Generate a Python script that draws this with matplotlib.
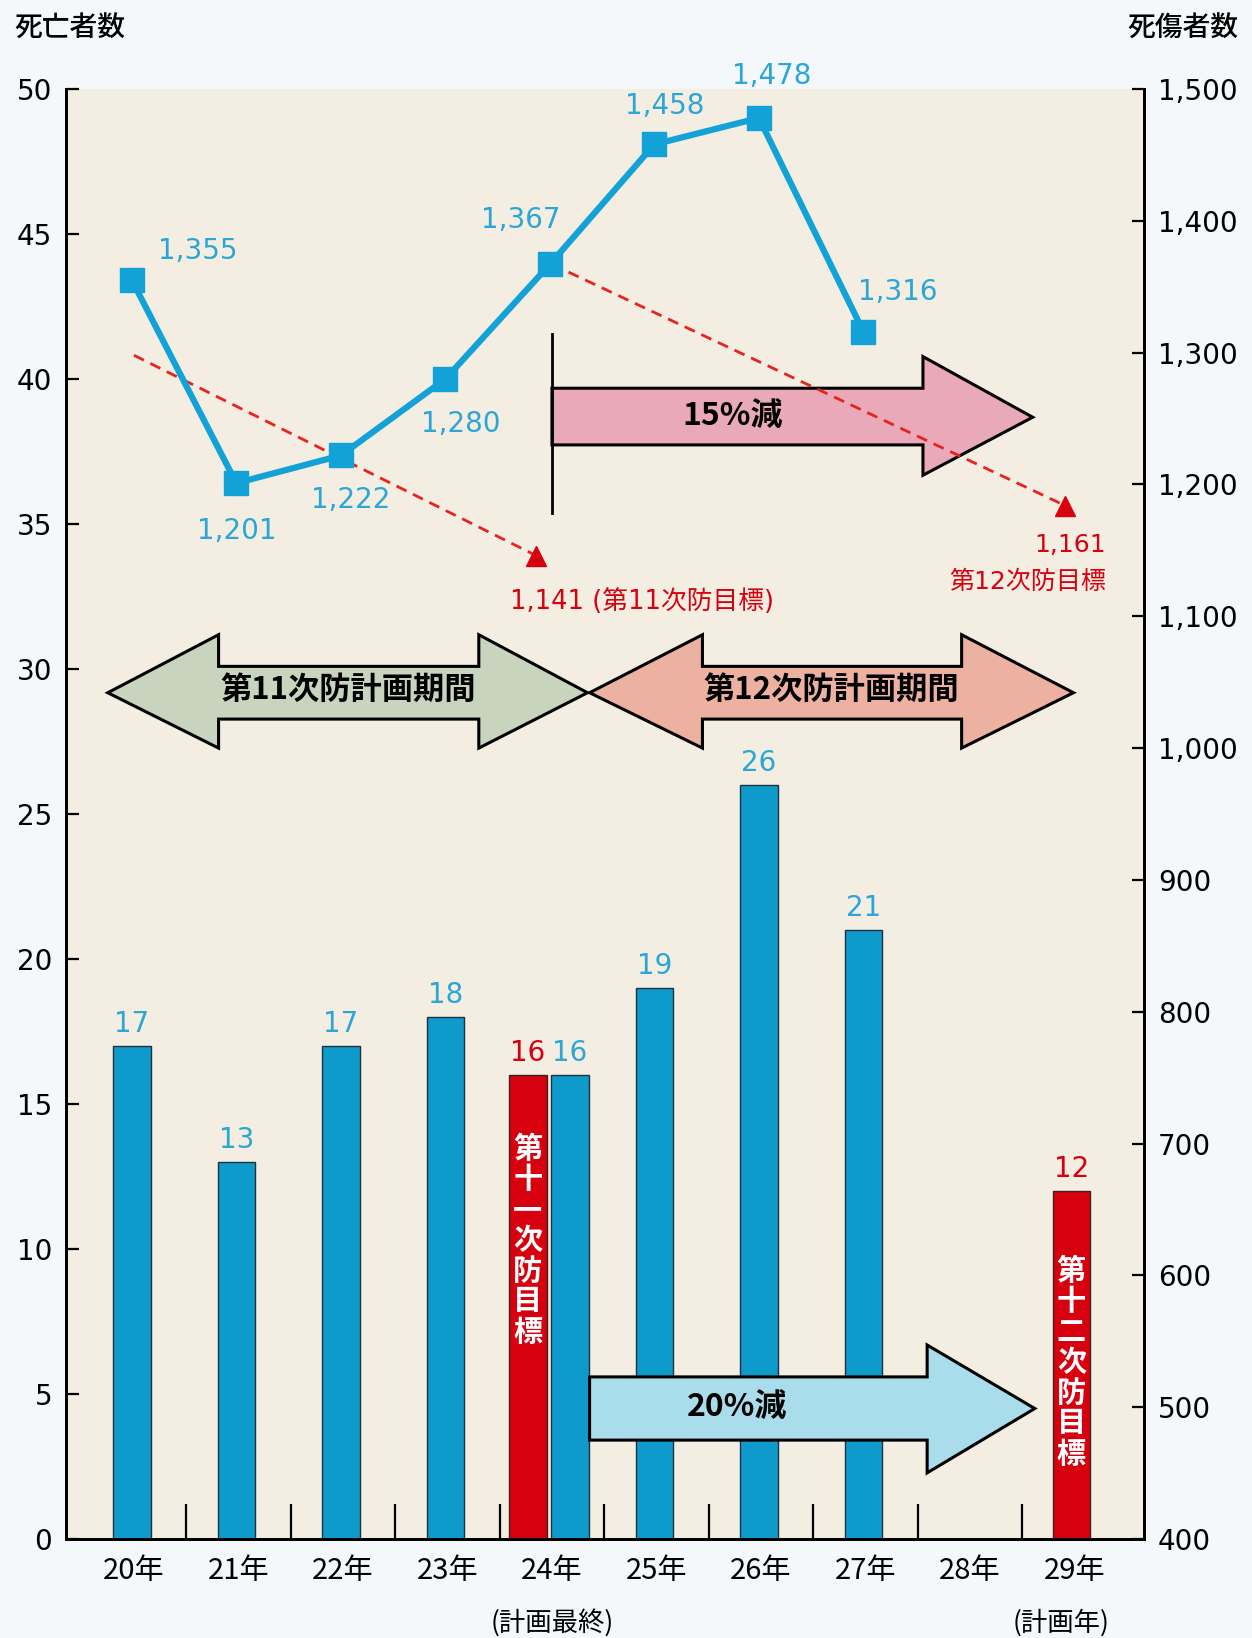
import numpy as np
import matplotlib
matplotlib.use('Agg')
import matplotlib.pyplot as plt
from matplotlib.patches import Polygon

FN = ['DejaVu Sans', 'Noto Sans CJK JP']   # 数字用
FJ = ['Noto Sans CJK JP', 'DejaVu Sans']   # 日本語用
plt.rcParams['font.family'] = FN

# データ
years = ['20年', '21年', '22年', '23年', '24年', '25年', '26年', '27年', '28年', '29年']
deaths = [17, 13, 17, 18, 16, 19, 26, 21]          # 死亡者数 (20年〜27年)
target_idx = [4, 9]                                 # 目標 (24年, 29年)
target_deaths = [16, 12]
target_names = ['第十一次防目標', '第十二次防目標']
casualties = [1355, 1201, 1222, 1280, 1367, 1458, 1478, 1316]   # 死傷者数
# 目標ライン (図上の位置から読み取り)
goal11_x = [0, 3.85]
goal11_y = [1298, 1146]
goal12_x = [4, 8.91]
goal12_y = [1367, 1184]

BLUE = '#0E9ACB'
LBLUE = '#2BA6D6'
RED = '#D7000F'

fig = plt.figure(figsize=(12.52, 16.38), dpi=100, facecolor='#F5F8FA')
ax = fig.add_axes([66/1252, 1 - 1539/1638, (1144-66)/1252, (1539-89)/1638])
ax.set_facecolor('#F3EEE1')
ax2 = ax.twinx()

# 棒グラフ
xs = np.arange(len(deaths)) - 0.02
xs[4] += 0.19
bars = ax.bar(xs, deaths, width=0.36, color=BLUE, edgecolor='#203040', linewidth=1, zorder=2)
ax.bar_label(bars, padding=6, color=LBLUE, fontsize=20)
tx = np.array(target_idx, dtype=float)
tx[0] -= 0.23
tx[1] -= 0.03
tbars = ax.bar(tx, target_deaths, width=0.36, color=RED, edgecolor='#402020', linewidth=1, zorder=2)
ax.bar_label(tbars, padding=6, color=RED, fontsize=20)
for x, name, yc in zip(tx, target_names, [10.3, 6.1]):
    ax.text(x, yc, '\n'.join(name), color='white', fontsize=21, fontweight='bold', family=FJ,
            ha='center', va='center', linespacing=1.02, zorder=4)

# 20%減 の矢印
arr20 = [(4.36, 5.59), (7.59, 5.59), (7.59, 6.69), (8.62, 4.5), (7.59, 2.28), (7.59, 3.41), (4.36, 3.41)]
ax.add_patch(Polygon(arr20, closed=True, facecolor='#A9DDEC', edgecolor='black', linewidth=2.2, zorder=3))
ax.text(5.77, 4.52, '20%減', fontsize=23, fontweight='bold', family=FJ, ha='center', va='center', zorder=4)

ax.set_xlim(-0.65, 9.665)
ax.set_ylim(0, 50)
ax2.set_ylim(400, 1500)

# 期間の矢印
def double_arrow(x0, x1, x2, x3, ylo, yhi, hlo, hhi, color):
    yc = (ylo + yhi) / 2
    pts = [(x0, yc), (x1, hhi), (x1, yhi), (x2, yhi), (x2, hhi), (x3, yc),
           (x2, hlo), (x2, ylo), (x1, ylo), (x1, hlo)]
    ax2.add_patch(Polygon(pts, closed=True, facecolor=color, edgecolor='black', linewidth=2.2, zorder=1))

double_arrow(-0.25, 0.81, 3.30, 4.34, 1022, 1062, 1000, 1086, '#C8D4BE')
double_arrow(4.36, 5.44, 7.92, 8.99, 1022, 1062, 1000, 1086, '#EDB1A1')
ax2.text(2.05, 1044, '第11次防計画期間', fontsize=22.5, fontweight='bold', family=FJ,
         ha='center', va='center', zorder=2)
ax2.text(6.67, 1044, '第12次防計画期間', fontsize=22.5, fontweight='bold', family=FJ,
         ha='center', va='center', zorder=2)

# 15%減 の矢印
arr15 = [(4.0, 1273), (7.55, 1273), (7.55, 1297), (8.60, 1251), (7.55, 1207), (7.55, 1230), (4.0, 1230)]
ax2.add_patch(Polygon(arr15, closed=True, facecolor='#E9A9B8', edgecolor='black', linewidth=2.2, zorder=1))
ax2.plot([4.0, 4.0], [1178, 1314], color='black', linewidth=2, zorder=1.5)
ax2.text(5.73, 1251, '15%減', fontsize=23, fontweight='bold', family=FJ, ha='center', va='center', zorder=2)

# 目標ライン
ax2.plot(goal11_x, goal11_y, color='#E8231E', linestyle=(0, (4, 2.6)), linewidth=2, zorder=3)
ax2.plot(goal12_x, goal12_y, color='#E8231E', linestyle=(0, (4, 2.6)), linewidth=2, zorder=3)
ax2.plot([goal11_x[-1], goal12_x[-1]], [goal11_y[-1], goal12_y[-1]], linestyle='none',
         marker='^', markersize=15, color=RED, zorder=4)
ax2.text(3.60, 1111, '1,141 (第11次防目標)', color=RED, fontsize=18.5, ha='left', va='center')
ax2.text(9.30, 1154, '1,161', color=RED, fontsize=18, ha='right', va='center')
ax2.text(9.30, 1126, '第12次防目標', color=RED, fontsize=18, ha='right', va='center')

# 死傷者数の折れ線
lx = np.arange(len(casualties)) - 0.02
ax2.plot(lx, casualties, color='#13A2D8', linewidth=4.5, marker='s', markersize=17, zorder=5)
offsets = [(66, 29), (0, -48), (10, -45), (15, -45), (-29, 44), (10, 38), (13, 42), (34, 40)]
for x, v, off in zip(lx, casualties, offsets):
    ax2.annotate(f'{v:,}', (x, v), xytext=off, textcoords='offset pixels',
                 color=LBLUE, fontsize=20, ha='center', va='center')

# 軸
ax.set_xticks(range(len(years)))
ax.set_xticklabels(years, fontsize=21, family=FJ)
ax.tick_params(axis='x', which='major', length=0, pad=12)
ax.set_xticks(np.arange(0.5, 9.0, 1.0), minor=True)
ax.tick_params(axis='x', which='minor', direction='in', length=25, width=1.6)
ax.set_yticks(range(0, 51, 5))
ax.tick_params(axis='y', direction='in', length=9, width=1.6, labelsize=20, pad=10)
ax2.set_yticks(range(400, 1501, 100))
ax2.set_yticklabels([f'{v:,}' for v in range(400, 1501, 100)])
ax2.tick_params(axis='y', direction='in', length=9, width=1.6, labelsize=20, pad=10)
for a in (ax, ax2):
    a.spines['top'].set_visible(False)
    for s in ('left', 'right', 'bottom'):
        a.spines[s].set_linewidth(2)

ax.text(4.0, -0.058, '(計画最終)', transform=ax.get_xaxis_transform(), fontsize=19, family=FJ,
        ha='center', va='center')
ax.text(8.87, -0.058, '(計画年)', transform=ax.get_xaxis_transform(), fontsize=19, family=FJ,
        ha='center', va='center')

fig.text(14/1252, 1 - 28/1638, '死亡者数', fontsize=20, family=FJ, fontweight='medium', ha='left', va='center')
fig.text(1238/1252, 1 - 28/1638, '死傷者数', fontsize=20, family=FJ, fontweight='medium', ha='right', va='center')

fig.savefig('out.png', dpi=100, facecolor=fig.get_facecolor())
